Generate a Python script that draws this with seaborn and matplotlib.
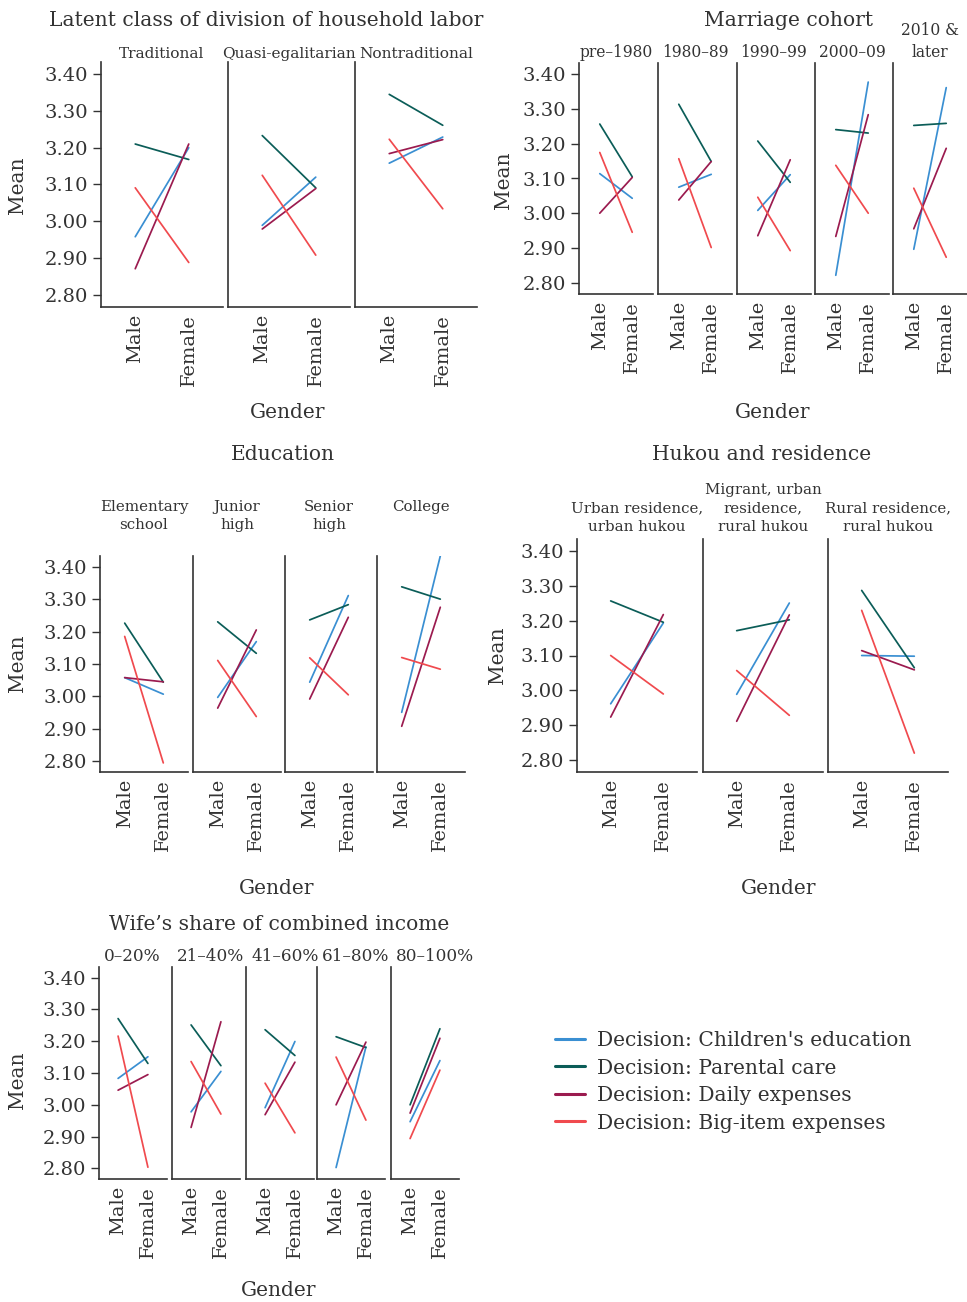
import numpy as np
import pandas as pd

import matplotlib
matplotlib.use('Agg')

from matplotlib import pyplot as plt
from matplotlib.lines import Line2D
import seaborn as sns

# ---------------------------------------------------------------- data
decisions = ["Decision: Children's education", "Decision: Parental care",
             "Decision: Daily expenses", "Decision: Big-item expenses"]
colors = ["#3a8fd2", "#0b5d58", "#9b1b4f", "#f04a4e"]
genders = ["Male", "Female"]
yticks = [2.80, 2.90, 3.00, 3.10, 3.20, 3.30, 3.40]

# (male, female) mean for each subgroup
labor_groups = ["Traditional", "Quasi-egalitarian", "Nontraditional"]
labor_edu = [(2.958, 3.200), (2.989, 3.120), (3.158, 3.229)]
labor_care = [(3.210, 3.168), (3.233, 3.091), (3.345, 3.261)]
labor_daily = [(2.871, 3.210), (2.979, 3.089), (3.184, 3.222)]
labor_big = [(3.091, 2.888), (3.125, 2.908), (3.223, 3.034)]

cohort_groups = ["pre\u20131980", "1980\u201389", "1990\u201399", "2000\u201309", "2010 &\nlater"]
cohort_edu = [(3.114, 3.043), (3.075, 3.112), (3.008, 3.111), (2.821, 3.378), (2.896, 3.362)]
cohort_care = [(3.257, 3.105), (3.314, 3.149), (3.208, 3.089), (3.241, 3.231), (3.253, 3.259)]
cohort_daily = [(3.000, 3.103), (3.038, 3.149), (2.935, 3.154), (2.933, 3.284), (2.955, 3.187)]
cohort_big = [(3.175, 2.945), (3.157, 2.901), (3.046, 2.892), (3.138, 3.000), (3.072, 2.873)]

edu_groups = ["Elementary\nschool", "Junior\nhigh", "Senior\nhigh", "College"]
edu_edu = [(3.058, 3.007), (2.997, 3.169), (3.044, 3.311), (2.951, 3.433)]
edu_care = [(3.226, 3.044), (3.230, 3.133), (3.236, 3.283), (3.338, 3.300)]
edu_daily = [(3.058, 3.045), (2.964, 3.205), (2.992, 3.244), (2.908, 3.275)]
edu_big = [(3.185, 2.795), (3.111, 2.938), (3.119, 3.005), (3.120, 3.084)]

hukou_groups = ["Urban residence,\nurban hukou", "Migrant, urban\nresidence,\nrural hukou",
                "Rural residence,\nrural hukou"]
hukou_edu = [(2.962, 3.193), (2.989, 3.250), (3.100, 3.098)]
hukou_care = [(3.256, 3.195), (3.171, 3.202), (3.286, 3.065)]
hukou_daily = [(2.924, 3.217), (2.912, 3.216), (3.114, 3.059)]
hukou_big = [(3.100, 2.990), (3.057, 2.929), (3.229, 2.821)]

income_groups = ["0\u201320%", "21\u201340%", "41\u201360%", "61\u201380%", "80\u2013100%"]
income_edu = [(3.083, 3.151), (2.978, 3.105), (2.991, 3.199), (2.803, 3.182), (2.947, 3.139)]
income_care = [(3.271, 3.130), (3.251, 3.123), (3.236, 3.155), (3.214, 3.180), (3.000, 3.239)]
income_daily = [(3.046, 3.095), (2.929, 3.261), (2.969, 3.134), (3.000, 3.197), (2.974, 3.209)]
income_big = [(3.216, 2.804), (3.136, 2.971), (3.068, 2.912), (3.150, 2.952), (2.894, 3.109)]

# ---------------------------------------------------------------- style
sns.set_style("ticks")
plt.rcParams['font.family'] = ['DejaVu Serif']
TXT = "#333333"
plt.rcParams['text.color'] = TXT
plt.rcParams['axes.edgecolor'] = TXT
plt.rcParams['xtick.color'] = TXT
plt.rcParams['ytick.color'] = TXT

W, H = 967, 1302
fig = plt.figure(figsize=(W / 100, H / 100), dpi=100)
fig.patch.set_facecolor('white')


def long_frame(groups, edu, care, daily, big):
    rows = []
    for i, g in enumerate(groups):
        for name, vals in zip(decisions, [edu, care, daily, big]):
            for gender, v in zip(genders, vals[i]):
                rows.append({"group": g, "Gender": gender, "Decision": name, "Mean": v})
    return pd.DataFrame(rows)


def draw_block(df, groups, lefts, width, top, bottom, title, title_xy,
               mean_xy, gender_xy, sub_y, sub_va, sub_fs, sub_left=None):
    for i, (g, left) in enumerate(zip(groups, lefts)):
        ax = fig.add_axes([left / W, 1 - bottom / H, width / W, (bottom - top) / H])
        sns.lineplot(data=df[df["group"] == g], x="Gender", y="Mean", hue="Decision",
                     hue_order=decisions, palette=colors, errorbar=None, legend=False,
                     sort=False, lw=1.25, ax=ax)
        ax.set_xlim(-0.64, 1.64)
        ax.set_ylim(2.767, 3.433)
        ax.set_yticks(yticks)
        ax.set_yticklabels(["{:.2f}".format(t) for t in yticks])
        ax.set_xlabel('')
        ax.set_ylabel('')
        ax.set_facecolor('none')
        for side in ['top', 'right']:
            ax.spines[side].set_visible(False)
        for side in ['left', 'bottom']:
            ax.spines[side].set_linewidth(1.2)
        ax.tick_params(axis='x', length=0, labelsize=14, pad=5, labelrotation=90)
        if i == 0:
            ax.tick_params(axis='y', length=5.5, width=1, labelsize=14, pad=4)
        else:
            ax.tick_params(axis='y', left=False, labelleft=False)
        if sub_left is None:
            fig.text((left + width / 2) / W, 1 - sub_y / H, g, ha='center', va=sub_va,
                     fontsize=sub_fs, linespacing=1.4)
        else:
            fig.text((left + sub_left) / W, 1 - sub_y / H, g, ha='left', va=sub_va,
                     fontsize=sub_fs, linespacing=1.4)
    fig.text(title_xy[0] / W, 1 - title_xy[1] / H, title, ha='center', va='center', fontsize=14.6)
    fig.text(mean_xy[0] / W, 1 - mean_xy[1] / H, "Mean", ha='center', va='center',
             rotation=90, fontsize=14.5)
    fig.text(gender_xy[0] / W, 1 - gender_xy[1] / H, "Gender", ha='center', va='center',
             fontsize=14.5)


draw_block(long_frame(labor_groups, labor_edu, labor_care, labor_daily, labor_big),
           labor_groups, [101, 228, 355], 122, 62, 307,
           "Latent class of division of household labor", (266, 20), (17, 185), (288, 413),
           61, 'bottom', 11.1)
draw_block(long_frame(cohort_groups, cohort_edu, cohort_care, cohort_daily, cohort_big),
           cohort_groups, [579, 658, 737, 815, 893], 74, 63, 294,
           "Marriage cohort", (788, 20), (503, 180), (773, 413),
           61, 'bottom', 11.2)
draw_block(long_frame(edu_groups, edu_edu, edu_care, edu_daily, edu_big),
           edu_groups, [100, 193, 285, 377], 88, 556, 772,
           "Education", (283, 455), (17, 663), (277, 888),
           500, 'top', 10.8)
draw_block(long_frame(hukou_groups, hukou_edu, hukou_care, hukou_daily, hukou_big),
           hukou_groups, [577, 703, 828], 120, 539, 772,
           "Hukou and residence", (762, 455), (497, 655), (779, 888),
           534, 'bottom', 10.8)
draw_block(long_frame(income_groups, income_edu, income_care, income_daily, income_big),
           income_groups, [99, 172, 246, 317, 391], 68, 967, 1179,
           "Wife\u2019s share of combined income", (279, 925), (17, 1080), (279, 1291),
           965, 'bottom', 12.2, sub_left=5)

handles = [Line2D([], [], color=c, lw=2.2) for c in colors]
fig.legend(handles=handles, labels=decisions, loc='upper left',
           bbox_to_anchor=(555 / W, 1 - 1031 / H), frameon=False, fontsize=14.6,
           handlelength=1.5, handletextpad=0.55, labelspacing=0.42, borderpad=0,
           borderaxespad=0)

plt.savefig("out.png", dpi=100)
plt.close(fig)
